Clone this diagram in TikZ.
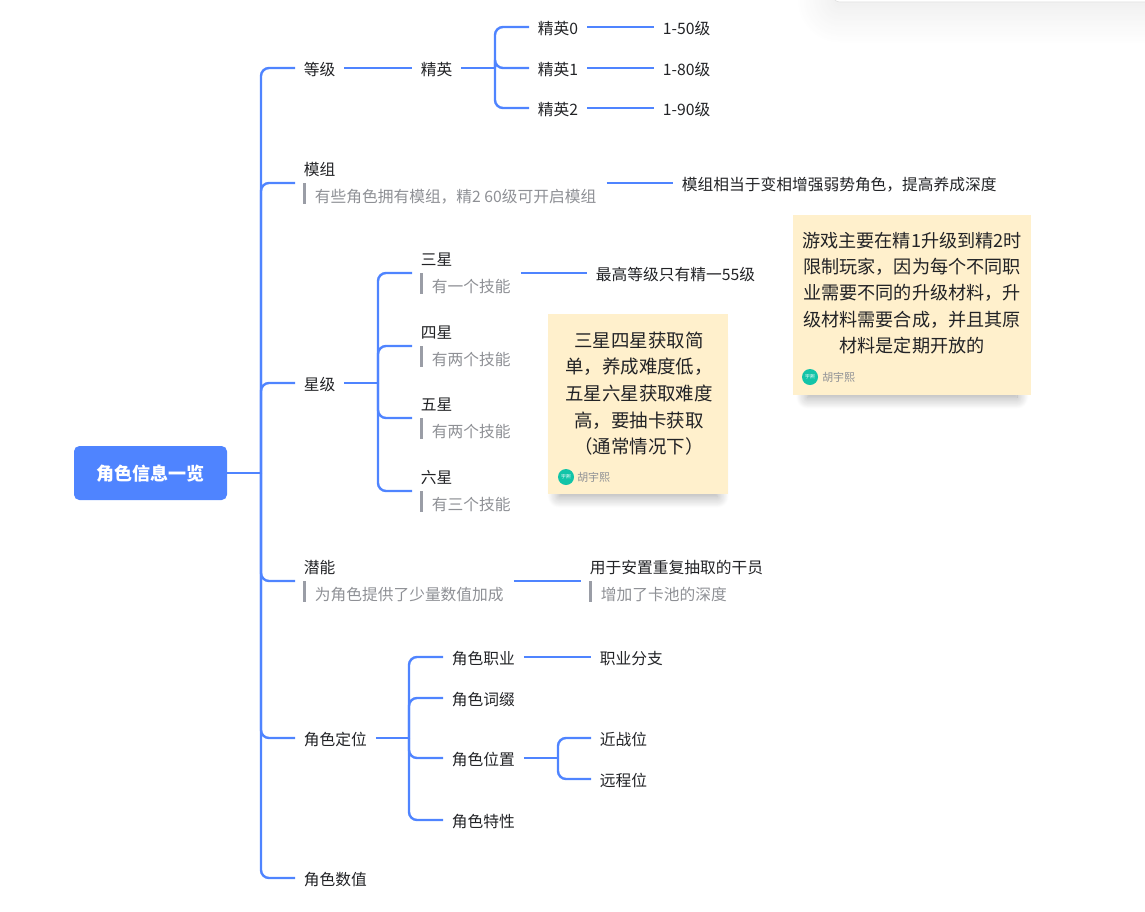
\documentclass[tikz,border=0pt]{standalone}
\usepackage{fontspec}
\setmainfont{Noto Sans CJK SC}
\usepackage{tikz}
\usetikzlibrary{shadows.blur}

\definecolor{linkblue}{HTML}{4F84FF}
\definecolor{inktext}{HTML}{222326}
\definecolor{notegray}{HTML}{8E9095}
\definecolor{barcol}{HTML}{9A9DA6}
\definecolor{stickyfill}{HTML}{FFF0CC}
\definecolor{avatarteal}{HTML}{12C4A8}

\tikzset{
  link/.style={draw=linkblue, line width=1.8pt},
  branch/.style={link, rounded corners=6pt},
  item/.style={anchor=west, font=\fontsize{11.8pt}{14pt}\selectfont, text=inktext, inner xsep=6.5pt, inner ysep=0pt, text height=1.26em, text depth=.11em},
  titled/.style={item, anchor=south west, inner ysep=4pt},
  notetext/.style={anchor=north west, font=\fontsize{11.8pt}{14pt}\selectfont, text=notegray, inner xsep=7.5pt, inner ysep=1pt, text height=1.32em, text depth=.05em},
  notebar/.style={draw=barcol, line width=1.9pt},
  sticky/.style={fill=stickyfill, anchor=north west, inner sep=0pt, blur shadow={shadow xshift=0pt, shadow yshift=-11pt, shadow scale=.88, shadow blur radius=10pt, shadow blur steps=16, shadow opacity=36}},
  stickytext/.style={align=center, text=inktext, inner sep=0pt},
  avatar/.style={circle, fill=avatarteal, minimum size=12pt, inner sep=0pt, text=white, font=\fontsize{3.6pt}{4pt}\selectfont},
  author/.style={anchor=west, inner sep=0pt, text=notegray, font=\fontsize{8.2pt}{10pt}\selectfont},
}

\begin{document}
\begin{tikzpicture}[x=.75pt, y=-.75pt]
  \useasboundingbox (0,0) rectangle (1145,911);
  % panel at the top
  \path[draw=black!13, fill=white, rounded corners=5pt, blur shadow={shadow xshift=0pt, shadow yshift=-4pt, shadow scale=1, shadow blur radius=28pt, shadow blur steps=20, shadow opacity=10}] (833,-160) rectangle (1300,2);
  % root
  \node[fill=linkblue, rounded corners=4pt, minimum width=114.75pt, minimum height=40.5pt, inner sep=0pt, text=white, text height=1.27em, text depth=.11em, font=\fontsize{13.5pt}{16pt}\selectfont\bfseries] (root) at (150.5,473) {角色信息一览};
  \coordinate (hubroot) at (261,473);
  % first level
  \node[item] (dengji) at (295,68) {等级};
  \node[titled] (mozu) at (295,183) {模组};
  \node[notetext] (mozunote) at (304.6,183) {有些角色拥有模组，精2 60级可开启模组};
  \node[item] (xingji) at (295,383) {星级};
  \node[titled] (qianneng) at (295,581) {潜能};
  \node[notetext] (qiannote) at (304.6,581) {为角色提供了少量数值加成};
  \node[item] (dingwei) at (295,738) {角色定位};
  \node[item] (shuzhi) at (295,878) {角色数值};
  % level
  \node[item] (jingying) at (412,68) {精英};
  \coordinate (hubjy) at (495,68);
  \node[item] (jy0) at (529,27) {精英0};
  \node[item] (jy1) at (529,68) {精英1};
  \node[item] (jy2) at (529,108) {精英2};
  \node[item] (lv0) at (654,27) {1-50级};
  \node[item] (lv1) at (654,68) {1-80级};
  \node[item] (lv2) at (654,108) {1-90级};
  % module
  \node[item] (mozuright) at (673,183) {模组相当于变相增强弱势角色，提高养成深度};
  % stars
  \coordinate (hubstar) at (378,383);
  \node[titled] (san) at (412,273) {三星};
  \node[notetext] (sannote) at (421.6,273) {有一个技能};
  \node[item] (sanright) at (587,273) {最高等级只有精一55级};
  \node[titled] (si) at (412,346) {四星};
  \node[notetext] (sinote) at (421.6,346) {有两个技能};
  \node[titled] (wu) at (412,418) {五星};
  \node[notetext] (wunote) at (421.6,418) {有两个技能};
  \node[titled] (liu) at (412,491) {六星};
  \node[notetext] (liunote) at (421.6,491) {有三个技能};
  % potential
  \node[titled] (yongyu) at (581,581) {用于安置重复抽取的干员};
  \node[notetext] (yongyunote) at (590.6,581) {增加了卡池的深度};
  % role
  \coordinate (hubrole) at (409,738);
  \node[item] (zhiye) at (443,657) {角色职业};
  \node[item] (cizhui) at (443,698) {角色词缀};
  \node[item] (weizhi) at (443,758) {角色位置};
  \node[item] (texing) at (443,820) {角色特性};
  \node[item] (fenzhi) at (591,657) {职业分支};
  \coordinate (hubpos) at (558,758);
  \node[item] (jinzhan) at (591,738) {近战位};
  \node[item] (yuancheng) at (591,779) {远程位};
  % connectors
  \draw[link] (root.east) -- (hubroot);
  \foreach \n in {dengji.west, mozu.south west, xingji.west, qianneng.south west, dingwei.west, shuzhi.west}
    \draw[branch] (hubroot) |- (\n);
  \draw[link] (dengji.east) -- (jingying.west);
  \draw[link] (jingying.east) -- (hubjy);
  \foreach \n in {jy0, jy1, jy2}
    \draw[branch] (hubjy) |- (\n.west);
  \draw[link] (jy0.east) -- (lv0.west);
  \draw[link] (jy1.east) -- (lv1.west);
  \draw[link] (jy2.east) -- (lv2.west);
  \draw[link] (mozunote.north east) -- (mozuright.west);
  \draw[link] (xingji.east) -- (hubstar);
  \foreach \n in {san, si, wu, liu}
    \draw[branch] (hubstar) |- (\n.south west);
  \draw[link] (sannote.north east) -- (sanright.west);
  \draw[link] (qiannote.north east) -- (yongyu.south west);
  \draw[link] (dingwei.east) -- (hubrole);
  \foreach \n in {zhiye, cizhui, weizhi, texing}
    \draw[branch] (hubrole) |- (\n.west);
  \draw[link] (zhiye.east) -- (fenzhi.west);
  \draw[link] (weizhi.east) -- (hubpos);
  \foreach \n in {jinzhan, yuancheng}
    \draw[branch] (hubpos) |- (\n.west);
  % note bars
  \foreach \n in {mozunote, sannote, sinote, wunote, liunote, qiannote, yongyunote}
    \draw[notebar] (\n.north west) -- (\n.south west);
  % sticky notes
  \node[sticky, minimum width=135pt, minimum height=135pt] (sticka) at (548,314) {};
  \node[stickytext, font=\fontsize{13.85pt}{20pt}\selectfont] (stickatext) at (639,393.5) {三星四星获取简\\单，养成难度低，\\五星六星获取难度\\高，要抽卡获取\\（通常情况下）};
  \node[avatar] (avatara) at (566,477) {宇熙};
  \node[author] (authora) at (577,477.5) {胡宇熙};
  \node[sticky, minimum width=178.5pt, minimum height=135pt] (stickb) at (793,215) {};
  \node[stickytext, font=\fontsize{13.6pt}{19.8pt}\selectfont] (stickbtext) at (912,293) {游戏主要在精1升级到精2时\\限制玩家，因为每个不同职\\业需要不同的升级材料，升\\级材料需要合成，并且其原\\材料是定期开放的};
  \node[avatar] (avatarb) at (810,377) {宇熙};
  \node[author] (authorb) at (822,377.5) {胡宇熙};
\end{tikzpicture}
\end{document}
